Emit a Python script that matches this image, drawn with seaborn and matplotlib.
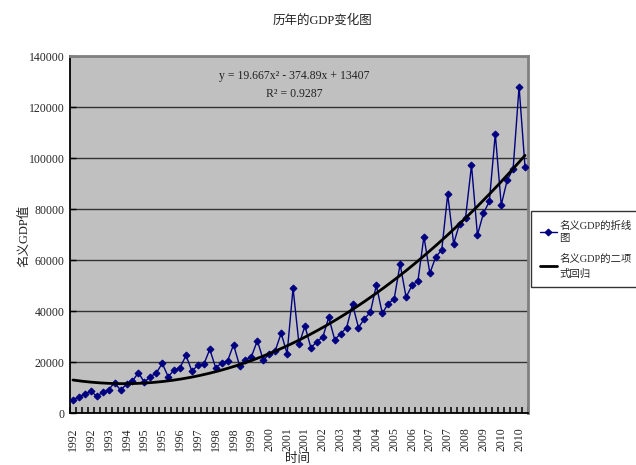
import numpy as np
import pandas as pd
import matplotlib
matplotlib.use("Agg")
import matplotlib.pyplot as plt
import seaborn as sns

# Quarterly nominal GDP (yuan, 100 million), 77 periods starting 1992
gdp = [
    5200, 6500, 7400, 8700, 6700, 8200, 9300, 12000, 9100, 11400,
    12700, 15900, 12200, 14400, 15700, 19600, 14400, 16900, 17900,
    22700, 16500, 18900, 19200, 25100, 17800, 19800, 20600, 26900,
    18700, 20900, 22200, 28500, 20800, 23300, 24500, 31400, 23400,
    49100, 27100,
    34200, 25700, 28100, 29900, 37600, 28900, 31200, 33600, 42700,
    33600, 37100, 39600, 50200, 39200, 43000, 44900, 58500, 45500,
    50200, 52000,
    69300, 54900, 61400, 64000, 85900, 66500, 74400, 76700, 97300,
    69900, 78400, 83100, 109600, 81700, 91400, 95900, 128100, 96500,
]
start_year = 1992
years = [start_year + i // 4 for i in range(len(gdp))]

# Quadratic trend y = a x^2 + b x + c, R^2 as reported
trend_a, trend_b, trend_c = 19.667, -374.89, 13407
r_squared = 0.9287

line_label = "名义GDP的折线\n图"
trend_label = "名义GDP的二项\n式回归"
title = "历年的GDP变化图"
xlabel = "时间"
ylabel = "名义GDP值"

sns.set_theme(style="white")
plt.rcParams["font.family"] = ["Liberation Serif", "Noto Sans CJK SC", "DejaVu Sans"]
plt.rcParams["axes.unicode_minus"] = False

pos = np.arange(1, len(gdp) + 1)
df = pd.DataFrame({"pos": pos, "gdp": gdp, "year": years})

fig = plt.figure(figsize=(6.36, 4.65), dpi=100)
ax = fig.add_axes([70 / 636, 1 - 413.3 / 465, 458 / 636, 357 / 465])
ax.set_facecolor("#C0C0C0")

sns.lineplot(data=df, x="pos", y="gdp", ax=ax, color="#000080", lw=1,
             marker="D", markersize=3.5, markeredgecolor="#000080",
             markerfacecolor="#000080", label=line_label, zorder=3)

tx = np.linspace(1, len(gdp), 400)
ty = trend_a * tx ** 2 + trend_b * tx + trend_c
sns.lineplot(x=tx, y=ty, ax=ax, color="black", lw=2, label=trend_label,
             zorder=4, sort=False)

ax.set_xlim(0.5, len(gdp) + 0.5)
ax.set_ylim(0, 140000)

# Category axis: label every third period, ticks on category boundaries
ax.set_xticks(pos[::3])
ax.set_xticklabels([str(y) for y in df["year"][::3]], rotation=90,
                   fontsize=8.5)
ax.set_xticks(np.arange(0.5, len(gdp) + 1, 1), minor=True)
ax.tick_params(axis="x", which="major", length=0, pad=10)
ax.tick_params(axis="x", which="minor", direction="in", length=4,
               width=1.1, color="black", bottom=True)

ax.set_yticks(range(0, 140001, 20000))
ax.set_yticklabels([str(v) for v in range(0, 140001, 20000)], fontsize=8.5)
ax.tick_params(axis="y", direction="in", length=4, width=1, color="black",
               pad=4, left=True)

ax.yaxis.grid(True, color="#333333", lw=1)
ax.xaxis.grid(False)
ax.set_axisbelow(True)
ax.set_xlabel("")
ax.set_ylabel("")

for side in ("left", "bottom"):
    ax.spines[side].set_color("black")
    ax.spines[side].set_linewidth(1.3)
for side in ("top", "right"):
    ax.spines[side].set_color("#808080")
    ax.spines[side].set_linewidth(2)

handles, labels = ax.get_legend_handles_labels()
ax.get_legend().remove()
leg = fig.legend(handles, labels, loc="upper left",
                 bbox_to_anchor=(531 / 636, 1 - 211.5 / 465),
                 fontsize=7.5, frameon=True, fancybox=False,
                 edgecolor="black", handlelength=1.6, handletextpad=0.25,
                 borderpad=0.85, labelspacing=1.0, borderaxespad=0)
leg.get_frame().set_linewidth(1)
for t in leg.get_texts():
    t.set_linespacing(1.55)

fig.text(322 / 636, 1 - 20 / 465, title, ha="center", va="center",
         fontsize=9, color="#222222")
fig.text(297 / 636, 1 - 459 / 465, xlabel, ha="center", va="center",
         fontsize=9, color="#222222")
fig.text(24 / 636, 1 - 236 / 465, ylabel, ha="center", va="center",
         rotation=90, fontsize=9, color="#222222")

fig.text(294 / 636, 1 - 76 / 465,
         f"y = {trend_a}x² - {abs(trend_b)}x + {trend_c}",
         ha="center", va="center", fontsize=8.5, color="#222222")
fig.text(294 / 636, 1 - 94 / 465, f"R² = {r_squared}",
         ha="center", va="center", fontsize=8.5, color="#222222")

fig.savefig("out.png", dpi=100, facecolor="white")
